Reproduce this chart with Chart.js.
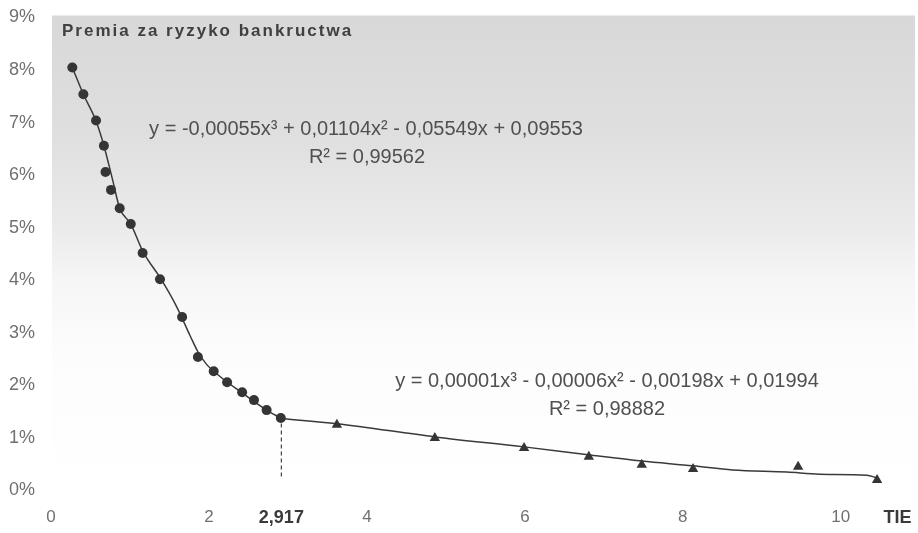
<!DOCTYPE html>
<html>
<head>
<meta charset="utf-8">
<script src="https://cdn.jsdelivr.net/npm/chart.js@4.4.1/dist/chart.umd.min.js"></script>
<style>
  html, body { margin: 0; padding: 0; background: #ffffff; }
  #wrap { width: 918px; height: 533px; }
</style>
</head>
<body>
<div id="wrap"><canvas id="myChart" width="918" height="533"></canvas></div>
<script>
// TIE (interest coverage) vs bankruptcy risk premium, %
var circleX = [0.27, 0.41, 0.57, 0.67, 0.69, 0.76, 0.87, 1.01, 1.16, 1.38, 1.66, 1.86, 2.06, 2.23, 2.42, 2.57, 2.73, 2.91];
var circleY = [8.05, 7.54, 7.04, 6.56, 6.06, 5.72, 5.37, 5.07, 4.52, 4.02, 3.30, 2.54, 2.27, 2.06, 1.87, 1.72, 1.53, 1.38];

var triangleX = [3.62, 4.86, 5.99, 6.81, 7.48, 8.13, 9.46, 10.46];
var triangleY = [1.25, 1.00, 0.81, 0.64, 0.49, 0.41, 0.45, 0.20];

// trend lines as traced on the picture
var trend1X = [0.27, 0.41, 0.57, 0.67, 0.78, 0.87, 1.01, 1.17, 1.39, 1.59, 1.76, 1.86, 1.97, 2.14, 2.39, 2.73, 2.917];
var trend1Y = [8.05, 7.54, 7.03, 6.56, 5.91, 5.37, 5.07, 4.53, 4.03, 3.50, 2.95, 2.64, 2.40, 2.17, 1.89, 1.53, 1.37];
var trend2X = [2.917, 3.62, 4.86, 5.99, 6.80, 7.48, 8.13, 8.63, 9.32, 9.73, 10.33, 10.46];
var trend2Y = [1.37, 1.27, 1.02, 0.83, 0.68, 0.56, 0.47, 0.39, 0.35, 0.31, 0.29, 0.24];

var breakX = 2.917;
var breakY = 1.37;

var xTicks = [0, 2, 2.917, 4, 6, 8, 10, 10.72];
var xTickLabels = ["0", "2", "2,917", "4", "6", "8", "10", "TIE"];
var yTicks = [0, 1, 2, 3, 4, 5, 6, 7, 8, 9];

var title = "Premia za ryzyko bankructwa";
var eq1 = ["y = -0,00055x\u00b3 + 0,01104x\u00b2 - 0,05549x + 0,09553", "R\u00b2 = 0,99562"];
var eq2 = ["y = 0,00001x\u00b3 - 0,00006x\u00b2 - 0,00198x + 0,01994", "R\u00b2 = 0,98882"];

function pairs(xs, ys) {
    return xs.map(function (x, i) { return { x: x, y: ys[i] }; });
}

var markColor = "#353535";
var fontFamily = "'Liberation Sans', Arial, sans-serif";

// gray gradient behind the plot, like the scanned original
var backPlugin = {
    id: "backPlugin",
    beforeDraw: function (chart) {
        let ctx = chart.ctx;
        let a = chart.chartArea;
        let g = ctx.createLinearGradient(0, a.top - 2, 0, a.bottom);
        g.addColorStop(0, "#d8d8d8");
        g.addColorStop(0.25, "#dfdfdf");
        g.addColorStop(0.45, "#ebebeb");
        g.addColorStop(0.56, "#f6f6f6");
        g.addColorStop(0.7, "#fcfcfc");
        g.addColorStop(1, "#ffffff");
        ctx.save();
        ctx.fillStyle = g;
        ctx.fillRect(a.left + 1, a.top - 2, a.right - a.left - 1, a.bottom - a.top + 2);
        ctx.restore();
    }
};

// title, equations and the dashed break line
var textPlugin = {
    id: "textPlugin",
    afterDatasetsDraw: function (chart) {
        let ctx = chart.ctx;
        let a = chart.chartArea;
        let xs = chart.scales.x;
        let ys = chart.scales.y;
        ctx.save();

        // dashed line at the break point
        ctx.strokeStyle = "#444";
        ctx.lineWidth = 1.2;
        ctx.setLineDash([4, 3]);
        ctx.beginPath();
        ctx.moveTo(xs.getPixelForValue(breakX), ys.getPixelForValue(breakY) + 5);
        ctx.lineTo(xs.getPixelForValue(breakX), ys.getPixelForValue(0.24));
        ctx.stroke();
        ctx.setLineDash([]);

        ctx.fillStyle = "#404040";
        ctx.textBaseline = "middle";
        ctx.textAlign = "left";
        ctx.font = "bold 17px " + fontFamily;
        ctx.letterSpacing = "2px";
        ctx.fillText(title, a.left + 11, 31);
        ctx.letterSpacing = "0px";

        ctx.fillStyle = "#505050";
        ctx.font = "20px " + fontFamily;
        ctx.textAlign = "center";
        ctx.fillText(eq1[0], 366, 129);
        ctx.fillText(eq1[1], 367, 157);
        ctx.fillText(eq2[0], 607, 381);
        ctx.fillText(eq2[1], 607, 409);
        ctx.restore();
    }
};

document.addEventListener("DOMContentLoaded", function () {
    new Chart(document.getElementById("myChart"), {
        type: "scatter",
        data: {
            datasets: [
                {
                    label: "TIE < 2,917",
                    data: pairs(circleX, circleY),
                    pointStyle: "circle",
                    pointRadius: 5,
                    backgroundColor: markColor,
                    borderColor: markColor,
                    borderWidth: 0,
                    order: 1
                },
                {
                    label: "TIE > 2,917",
                    data: pairs(triangleX, triangleY),
                    pointStyle: "triangle",
                    pointRadius: 6,
                    backgroundColor: markColor,
                    borderColor: markColor,
                    borderWidth: 0,
                    order: 1
                },
                {
                    label: "trend 1",
                    data: pairs(trend1X, trend1Y),
                    showLine: true,
                    pointRadius: 0,
                    borderColor: "#3a3a3a",
                    borderWidth: 1.5,
                    cubicInterpolationMode: "monotone",
                    order: 2
                },
                {
                    label: "trend 2",
                    data: pairs(trend2X, trend2Y),
                    showLine: true,
                    pointRadius: 0,
                    borderColor: "#3a3a3a",
                    borderWidth: 1.5,
                    cubicInterpolationMode: "monotone",
                    order: 2
                }
            ]
        },
        options: {
            responsive: false,
            animation: false,
            layout: { autoPadding: false, padding: { top: 17.5, right: 3, bottom: 5.5, left: 0 } },
            plugins: {
                legend: { display: false },
                tooltip: { enabled: false }
            },
            scales: {
                x: {
                    type: "linear",
                    min: 0,
                    max: 10.94,
                    grid: { display: false, drawTicks: false },
                    border: { display: false },
                    afterBuildTicks: function (axis) {
                        axis.ticks = xTicks.map(function (v) { return { value: v }; });
                    },
                    afterFit: function (axis) {
                        axis.height = 37;
                        axis.paddingLeft = 0;
                        axis.paddingRight = 0;
                    },
                    ticks: {
                        autoSkip: false,
                        maxRotation: 0,
                        padding: 17,
                        color: function (c) {
                            return (c.index === 2 || c.index === 7) ? "#3a3a3a" : "#707070";
                        },
                        font: function (c) {
                            let bold = c.index === 2 || c.index === 7;
                            return { family: fontFamily, size: bold ? 18 : 17, weight: bold ? "bold" : "normal" };
                        },
                        callback: function (value, index) { return xTickLabels[index]; }
                    }
                },
                y: {
                    min: 0,
                    max: 9,
                    grid: { display: false, drawTicks: false },
                    border: { display: false },
                    afterBuildTicks: function (axis) {
                        axis.ticks = yTicks.map(function (v) { return { value: v }; });
                    },
                    afterFit: function (axis) {
                        axis.width = 51;
                        axis.paddingTop = 0;
                        axis.paddingBottom = 0;
                    },
                    ticks: {
                        padding: 16,
                        color: "#707070",
                        font: { family: fontFamily, size: 18 },
                        callback: function (value) { return value + "%"; }
                    }
                }
            }
        },
        plugins: [backPlugin, textPlugin]
    });
});
</script>
</body>
</html>
